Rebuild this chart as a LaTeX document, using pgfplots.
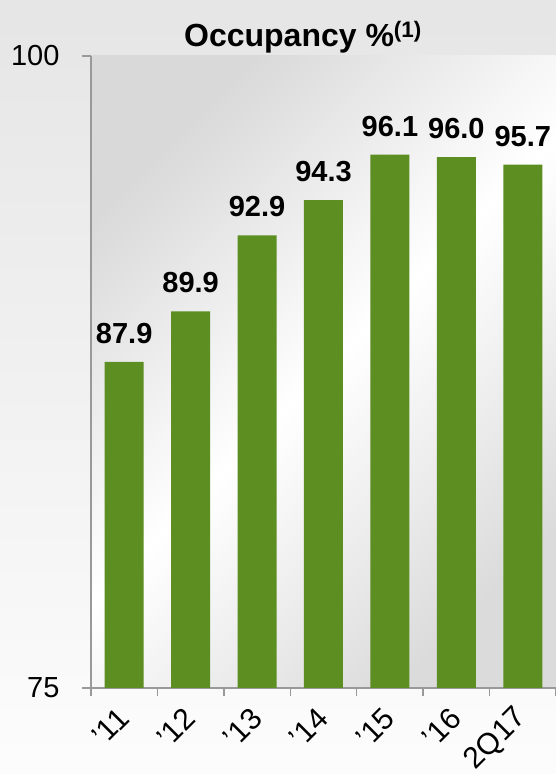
\documentclass[border=0pt]{standalone}
\usepackage{pgfplots}
\pgfplotsset{compat=1.18}
\usepackage{fontspec}
\setmainfont{Liberation Sans}
\definecolor{bargreen}{HTML}{5C8E22}
\definecolor{axisgray}{HTML}{999999}
\begin{document}
\begin{tikzpicture}[x=1pt,y=1pt]
\useasboundingbox (0,0) rectangle (556,774);
\clip (0,0) rectangle (556,774);
\shade[top color=black!10, bottom color=black!1] (0,0) rectangle (556,774);
\node[font=\fontsize{32}{33}\selectfont\bfseries] at (303,737) {Occupancy \%\textsuperscript{(1)}};
\begin{axis}[
  at={(91pt,86pt)}, anchor=south west, scale only axis,
  width=465pt, height=632pt,
  xmin=-0.5, xmax=6.5, ymin=75, ymax=100,
  axis x line*=bottom, axis y line*=left,
  axis line style={-, draw=axisgray, line width=2pt},
  axis background/.style={shade, top color=black!15, bottom color=black!14, middle color=white, shading angle=45},
  tick align=outside,
  major tick length=9pt, minor tick length=8pt,
  tick style={draw=axisgray, line width=1.5pt},
  ytick={75,100},
  xtick={0,...,6},
  xticklabels={'11,'12,'13,'14,'15,'16,2Q17},
  minor xtick={-0.5,0.5,...,6.5},
  major x tick style={draw=none},
  /pgf/number format/assume math mode=true,
  yticklabel style={font=\fontsize{29}{29}\selectfont, xshift=-19pt},
  xticklabel style={yshift=-14pt, xshift=2pt, rotate=45, anchor=east, font=\fontsize{30}{30}\selectfont},
  ybar, bar width=39pt,
  nodes near coords,
  nodes near coords style={font=\fontsize{29}{29}\selectfont\bfseries, inner sep=0pt, anchor=south, yshift=18pt,
    /pgf/number format/.cd, fixed, fixed zerofill, precision=1, assume math mode=true},
]
\addplot[fill=bargreen, draw=none] coordinates {(0,87.9) (1,89.9) (2,92.9) (3,94.3) (4,96.1) (5,96.0) (6,95.7)};
\end{axis}
\end{tikzpicture}
\end{document}
